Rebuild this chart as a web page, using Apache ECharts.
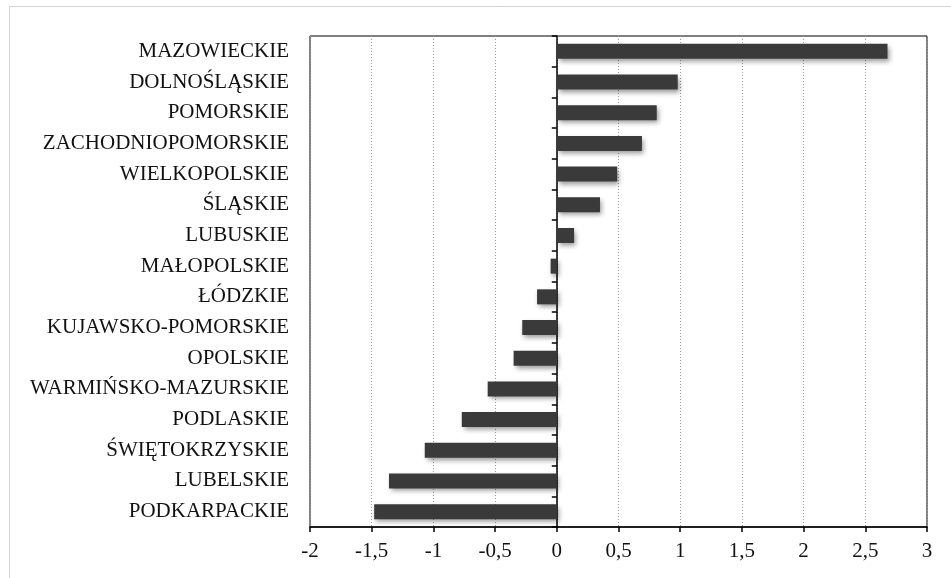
<!DOCTYPE html>
<html>
<head>
<meta charset="utf-8">
<script src="https://cdn.jsdelivr.net/npm/echarts@6/dist/echarts.min.js"></script>
<style>
  html, body { margin: 0; padding: 0; background: #fff; }
  #chart { width: 951px; height: 578px; }
</style>
</head>
<body>
<div id="chart"></div>
<script>
// Voivodeships, top to bottom
const regions = [
  'MAZOWIECKIE', 'DOLNOŚLĄSKIE', 'POMORSKIE', 'ZACHODNIOPOMORSKIE',
  'WIELKOPOLSKIE', 'ŚLĄSKIE', 'LUBUSKIE', 'MAŁOPOLSKIE', 'ŁÓDZKIE',
  'KUJAWSKO-POMORSKIE', 'OPOLSKIE', 'WARMIŃSKO-MAZURSKIE', 'PODLASKIE',
  'ŚWIĘTOKRZYSKIE', 'LUBELSKIE', 'PODKARPACKIE'
];
// Standardised indicator value for each voivodeship
const values = [
  2.68, 0.98, 0.81, 0.69, 0.49, 0.35, 0.14, -0.05, -0.16,
  -0.28, -0.35, -0.56, -0.77, -1.07, -1.36, -1.48
];
// Value axis range
const axisMin = -2;
const axisMax = 3;
const axisStep = 0.5;

const serif = '"Liberation Serif", "Times New Roman", serif';

const chart = echarts.init(document.getElementById('chart'), null, { renderer: 'canvas' });

chart.setOption({
  backgroundColor: '#fff',
  animation: false,
  grid: {
    left: 310, right: 24, top: 36, bottom: 51,
    containLabel: false,
    outerBoundsMode: 'none',
    show: true, borderColor: '#000', borderWidth: 1
  },
  graphic: [{
    type: 'rect',
    shape: { x: 9.5, y: 6.5, width: 1000, height: 700 },
    style: { fill: 'none', stroke: '#aaa', lineWidth: 1, lineDash: [1, 1] },
    silent: true
  }],
  xAxis: {
    type: 'value',
    min: axisMin, max: axisMax, interval: axisStep,
    axisLine: { show: true, onZero: false, lineStyle: { color: '#000', width: 1.5 } },
    axisTick: { show: true, length: 5, lineStyle: { color: '#000', width: 1.5 } },
    axisLabel: {
      color: '#111', fontFamily: serif, fontSize: 21, margin: 14,
      formatter: v => String(v).replace('.', ',')
    },
    splitLine: { show: true, lineStyle: { color: '#999', type: [1, 2], width: 1 } }
  },
  yAxis: {
    type: 'category',
    data: regions,
    inverse: true,
    axisLine: { show: true, onZero: true, lineStyle: { color: '#000', width: 1.5 } },
    axisTick: { show: true, length: 5, alignWithLabel: false, lineStyle: { color: '#000', width: 1.5 } },
    axisLabel: { color: '#111', fontFamily: serif, fontSize: 21, margin: 21 },
    splitLine: { show: false }
  },
  series: [{
    type: 'bar',
    data: values,
    barWidth: 15,
    itemStyle: {
      color: '#3a3a3a',
      shadowColor: 'rgba(0,0,0,0.4)',
      shadowBlur: 5,
      shadowOffsetX: 2,
      shadowOffsetY: 3
    }
  }]
});
</script>
</body>
</html>
